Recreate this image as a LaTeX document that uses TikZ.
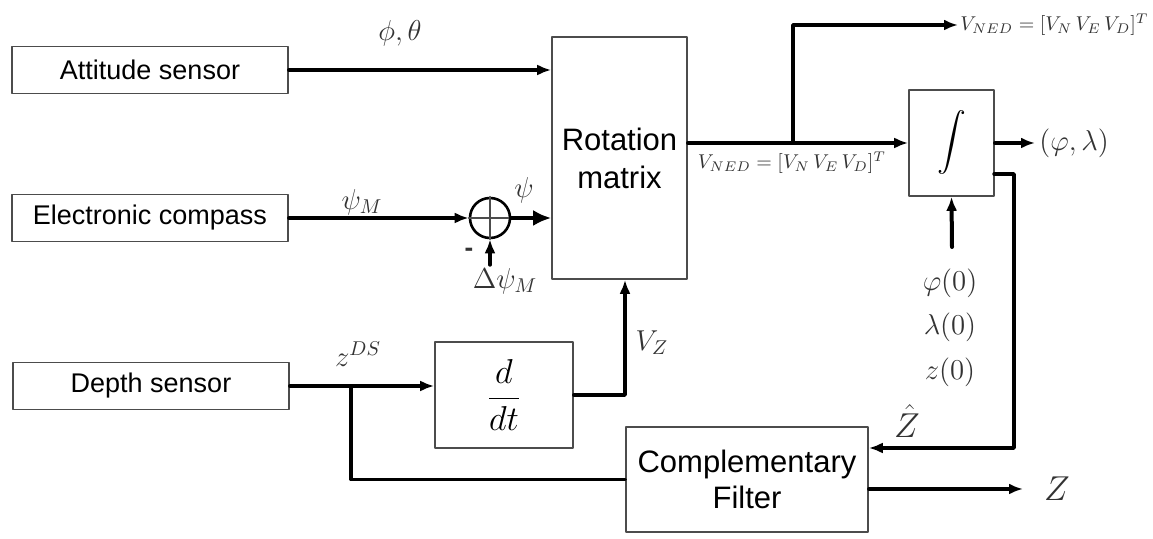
\documentclass[tikz,border=0pt]{standalone}
\usepackage{exscale}
\usepackage[no-math]{fontspec}
\setmainfont{Liberation Sans}
\usetikzlibrary{arrows.meta,calc}

\begin{document}
\begin{tikzpicture}[x=0.5pt,y=-0.5pt,line join=round,line cap=round,>={Latex[length=7pt,width=5.5pt]}]
	\tikzset{blk/.style={draw=black!70,line width=0.8pt,inner sep=0pt,align=center},
		sensor/.style={blk,minimum width=138pt,minimum height=23.5pt,font=\fontsize{13.5}{16}\selectfont},
		sig/.style={line width=1.7pt,->},
		wire/.style={line width=1.7pt},
		lbl/.style={text=black!80,inner sep=0pt,font=\fontsize{14}{16}\selectfont}}
	\useasboundingbox (0,0) rectangle (1153,539);
	% blocks
	\node[sensor] (att) at (150,70) {Attitude sensor};
	\node[sensor] (comp) at (150,218) {Electronic compass};
	\node[sensor] (depth) at (151,386) {Depth sensor};
	\node[blk,circle,minimum size=20pt,line width=1.3pt,draw=black] (sum) at (490,218) {};
	\draw[black!70,line width=0.7pt] (sum.north)--(sum.south) (sum.west)--(sum.east);
	\node[blk,minimum width=67.5pt,minimum height=121pt,font=\fontsize{15.5}{19}\selectfont] (rot) at (619.5,158) {Rotation\\matrix};
	\node[blk,minimum width=69pt,minimum height=53pt,font=\fontsize{18}{20}\selectfont] (ddt) at (504,395) {$\displaystyle\frac{d}{dt}$};
	\node[blk,minimum width=42.5pt,minimum height=53pt,font=\fontsize{14}{16}\selectfont] (int) at (951.5,143) {$\displaystyle\int$};
	\node[blk,minimum width=121pt,minimum height=52.5pt,font=\fontsize{15.5}{18}\selectfont] (cf) at (747,479.5) {Complementary\\Filter};
	% helper points
	\coordinate (br) at (351,386);
	\coordinate (up) at (793,143);
	\coordinate (dout) at (625,395);
	\coordinate (fb) at (994,174);
	\coordinate (init) at (952,247);
	\coordinate (dpsi) at (490,265);
	\coordinate (ned) at (958,25);
	\coordinate (pos) at (1035,143);
	\coordinate (zout) at (1023,489);
	% signals
	\draw[sig] (att.east) -- (att.east -| rot.west);
	\draw[sig] (comp.east) -- (sum.west);
	\draw[sig,line width=2.3pt,>={Latex[length=9pt,width=8pt]}] (sum.east) -- (sum.east -| rot.west);
	\draw[sig] (dpsi) -- (sum.south);
	\draw[sig] (depth.east) -- (depth.east -| ddt.west);
	\draw[wire] (br) |- (cf.west);
	\draw[sig] (ddt.east |- dout) -- (dout) -- (dout |- rot.south);
	\draw[sig] (rot.east |- int.west) -- (int.west);
	\draw[sig] (up) |- (ned);
	\draw[sig] (int.east) -- (pos);
	\draw[sig] (fb) -| (1014,448) -- (cf.east |- 0,448);
	\draw[sig,line width=2pt] (init) -- (int.south);
	\draw[sig] (cf.east |- zout) -- (zout);
	% labels
	\node[lbl] at (400,33) {$\phi,\theta$};
	\node[lbl] at (362,202) {$\psi_M$};
	\node[lbl] at (524,190) {$\psi$};
	\node[lbl,font=\fontsize{13}{16}\bfseries] at (469,252) {-};
	\node[lbl] at (505,281) {$\Delta\psi_M$};
	\node[lbl] at (358,354) {$z^{DS}$};
	\node[lbl] at (652,343) {$V_Z$};
	\node[lbl,font=\fontsize{10}{12}\selectfont] at (792,163) {$V_{NED}=[V_N\,V_E\,V_D]^T$};
	\node[lbl,anchor=west,font=\fontsize{10}{12}\selectfont] at ([xshift=1pt]ned) {$V_{NED}=[V_N\,V_E\,V_D]^T$};
	\node[lbl,anchor=west] at ([xshift=2pt]pos) {$(\varphi,\lambda)$};
	\node[lbl,font=\fontsize{15}{18}\selectfont] at (950,283) {$\varphi(0)$};
	\node[lbl,font=\fontsize{15}{18}\selectfont] at (950,327) {$\lambda(0)$};
	\node[lbl,font=\fontsize{15}{18}\selectfont] at (950,372) {$z(0)$};
	\node[lbl,font=\fontsize{16}{18}\selectfont] at (907,421) {$\hat{Z}$};
	\node[lbl,font=\fontsize{16}{18}\selectfont] at (1057,489) {$Z$};
\end{tikzpicture}
\end{document}
